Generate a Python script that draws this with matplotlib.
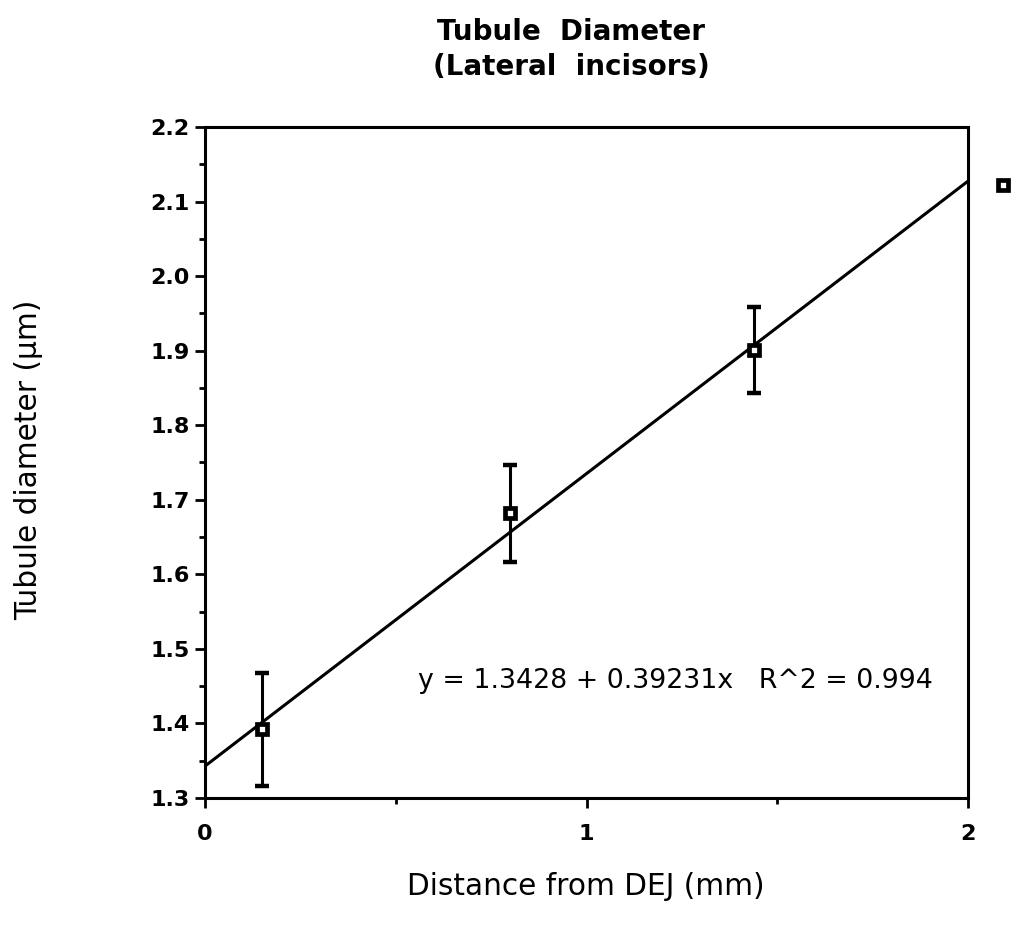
import numpy as np
import matplotlib
matplotlib.use("Agg")
import matplotlib.pyplot as plt
from matplotlib.lines import Line2D
from matplotlib.ticker import MultipleLocator

plt.rcParams['font.family'] = ['DejaVu Sans']

# measured tubule diameters
distance = [0.15, 0.80, 1.44]
diameter = [1.392, 1.682, 1.901]
err = [0.076, 0.065, 0.058]

# linear fit reported on the chart
intercept = 1.3428
slope = 0.39231
r2 = 0.994
fit_x = [0.0, 2.0]

fig = plt.figure(figsize=(10.11, 9.33), dpi=100)
ax = fig.add_axes([0.2028, 0.1447, 0.7547, 0.7192])

fx = np.array(fit_x)
ax.plot(fx, intercept + slope * fx, color='black', lw=2.2, zorder=2)

ax.errorbar(distance, diameter, yerr=err, fmt='none', ecolor='black',
            elinewidth=2.2, capsize=5, capthick=3.2, zorder=3)
ax.plot(distance, diameter, ls='none', marker='s', ms=6.5, mew=3.4,
        mec='black', mfc='white', zorder=4)

ax.set_xlim(0, 2)
ax.set_ylim(1.3, 2.2)
ax.xaxis.set_major_locator(MultipleLocator(1))
ax.xaxis.set_minor_locator(MultipleLocator(0.5))
ax.yaxis.set_major_locator(MultipleLocator(0.1))
ax.yaxis.set_minor_locator(MultipleLocator(0.05))
ax.set_yticklabels([f'{v:.1f}' for v in ax.get_yticks()])
ax.set_xticklabels([f'{v:.0f}' for v in ax.get_xticks()])

for s in ax.spines.values():
    s.set_linewidth(2.2)
ax.tick_params(which='major', direction='out', length=7, width=2,
               labelsize=16, pad=4)
ax.tick_params(axis='x', which='major', pad=12)
ax.tick_params(which='minor', direction='out', length=4, width=2)
for lab in ax.get_xticklabels() + ax.get_yticklabels():
    lab.set_fontweight('bold')

ax.text(0.279, 0.174, f'y = {intercept} + {slope}x   R^2 = {r2}',
        transform=ax.transAxes, ha='left', va='center', fontsize=19.3)

fig.text(0.565, 0.966, 'Tubule  Diameter', ha='center', va='center',
         fontsize=20, fontweight='bold')
fig.text(0.565, 0.928, '(Lateral  incisors)', ha='center', va='center',
         fontsize=20, fontweight='bold')

fig.text(0.028, 0.507, 'Tubule diameter (\u00b5m)', rotation=90,
         ha='center', va='center', fontsize=21.3)
fig.text(0.579, 0.05, 'Distance from DEJ (mm)', ha='center', va='center',
         fontsize=21.3)

h = Line2D([], [], ls='none', marker='s', ms=6.5, mew=3.4,
           mec='black', mfc='white')
fig.legend(handles=[h], labels=[''], loc='center', frameon=False,
           bbox_to_anchor=(1003 / 1011, 1 - 186 / 933),
           handlelength=1, handletextpad=0, borderpad=0, borderaxespad=0)

fig.savefig('out.png', dpi=100)
